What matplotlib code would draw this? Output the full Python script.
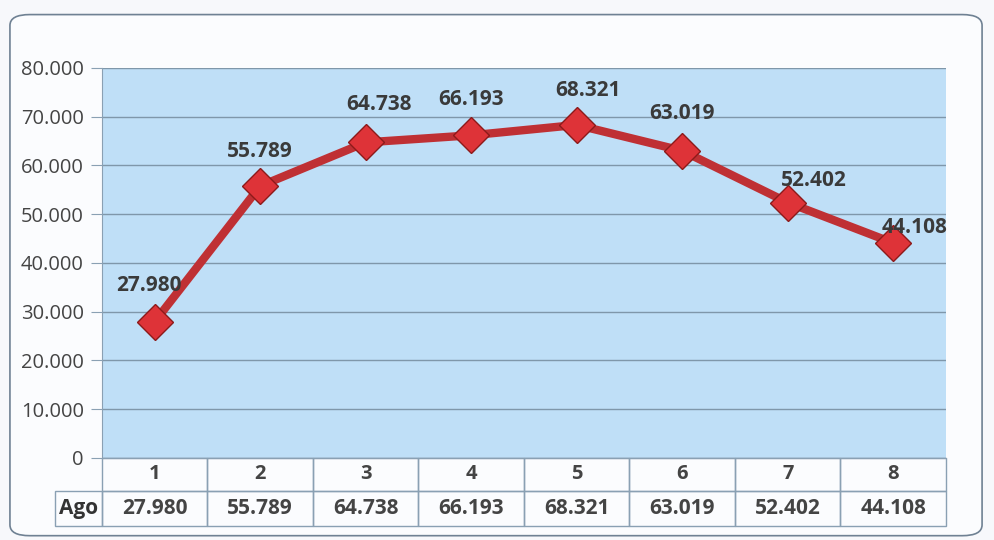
import matplotlib
matplotlib.use("Agg")
import matplotlib.pyplot as plt
from matplotlib.patches import FancyBboxPatch, Rectangle
from matplotlib.ticker import FuncFormatter

categories = ["1", "2", "3", "4", "5", "6", "7", "8"]
values = [27980, 55789, 64738, 66193, 68321, 63019, 52402, 44108]
series_name = "Ago"
yticks = [0, 10000, 20000, 30000, 40000, 50000, 60000, 70000, 80000]

def fmt(v):
    return f"{v:,.0f}".replace(",", ".") if v != 0 else "0"

plt.rcParams['font.family'] = ['Open Sans', 'DejaVu Sans']
BOLD = ['Open Sans', 'DejaVu Sans']

fig = plt.figure(figsize=(9.94, 5.40), dpi=100)
fig.patch.set_facecolor("#f7f8fb")

border = FancyBboxPatch((0.010, 0.008), 0.978, 0.965, boxstyle="round,pad=0,rounding_size=0.02",
                        transform=fig.transFigure, facecolor="#fbfcfe", edgecolor="#6f8193",
                        linewidth=1.2, zorder=-10)
fig.patches.append(border)

ax = fig.add_axes([0.1026, 0.1519, 0.8491, 0.7222])
ax.set_zorder(1)
ax.set_facecolor("#bfdff7")
x = list(range(len(categories)))
ax.set_xlim(-0.5, len(categories) - 0.5)
ax.set_ylim(0, 80000)
ax.set_yticks(yticks)
ax.yaxis.set_major_formatter(FuncFormatter(lambda v, p: fmt(v)))
ax.grid(axis="y", color="#7f97aa", linewidth=1.0)
ax.set_axisbelow(True)
ax.set_xticks([])
for s in ["top", "right"]:
    ax.spines[s].set_visible(False)
ax.spines["left"].set_color("#8aa0b3")
ax.spines["bottom"].set_color("#8aa0b3")
ax.tick_params(axis="y", length=8, color="#8aa0b3", labelsize=14.5, labelcolor="#444444", pad=5)

ax.plot(x, values, color="#bf3034", linewidth=6, solid_capstyle="round", zorder=3)
ax.plot(x, values, linestyle="none", marker="D", markersize=18, markerfacecolor="#de3338",
        markeredgecolor="#8c1a1a", markeredgewidth=1.0, zorder=4)

# label offsets in pixels (dx, dy) relative to the point, label centred
offsets_px = [(-6, 36), (0, 35), (13, 38), (0, 36), (11, 34), (0, 37), (26, 22), (21, 15)]
for xi, v, (dx, dy) in zip(x, values, offsets_px):
    ax.annotate(fmt(v), (xi, v), xytext=(dx * 0.72, dy * 0.72), textcoords="offset points",
                ha="center", va="center", fontsize=15, fontweight="bold", color="#3a3a3a",
                family=BOLD, zorder=5)

# data table below
n = len(categories)
r1, r2 = -0.0846, -0.174
left = -0.0557
lc = "#8aa0b3"
for i, (c, v) in enumerate(zip(categories, values)):
    x0 = i / n
    ax.add_patch(Rectangle((x0, r1), 1 / n, -r1, transform=ax.transAxes, fill=False,
                           edgecolor=lc, linewidth=1, clip_on=False))
    ax.add_patch(Rectangle((x0, r2), 1 / n, r1 - r2, transform=ax.transAxes, fill=False,
                           edgecolor=lc, linewidth=1, clip_on=False))
    ax.text(x0 + 0.5 / n, r1 / 2, c, transform=ax.transAxes, ha="center", va="center",
            fontsize=14.5, fontweight="bold", color="#444444", family=BOLD)
    ax.text(x0 + 0.5 / n, (r1 + r2) / 2, fmt(v), transform=ax.transAxes, ha="center", va="center",
            fontsize=15, fontweight="bold", color="#444444", family=BOLD)
ax.add_patch(Rectangle((left, r2), -left, r1 - r2, transform=ax.transAxes, fill=False,
                       edgecolor=lc, linewidth=1, clip_on=False))
ax.text(left / 2, (r1 + r2) / 2, series_name, transform=ax.transAxes, ha="center", va="center",
        fontsize=15, fontweight="bold", color="#333333", family=BOLD)

fig.savefig("out.png", dpi=100, facecolor=fig.get_facecolor())
